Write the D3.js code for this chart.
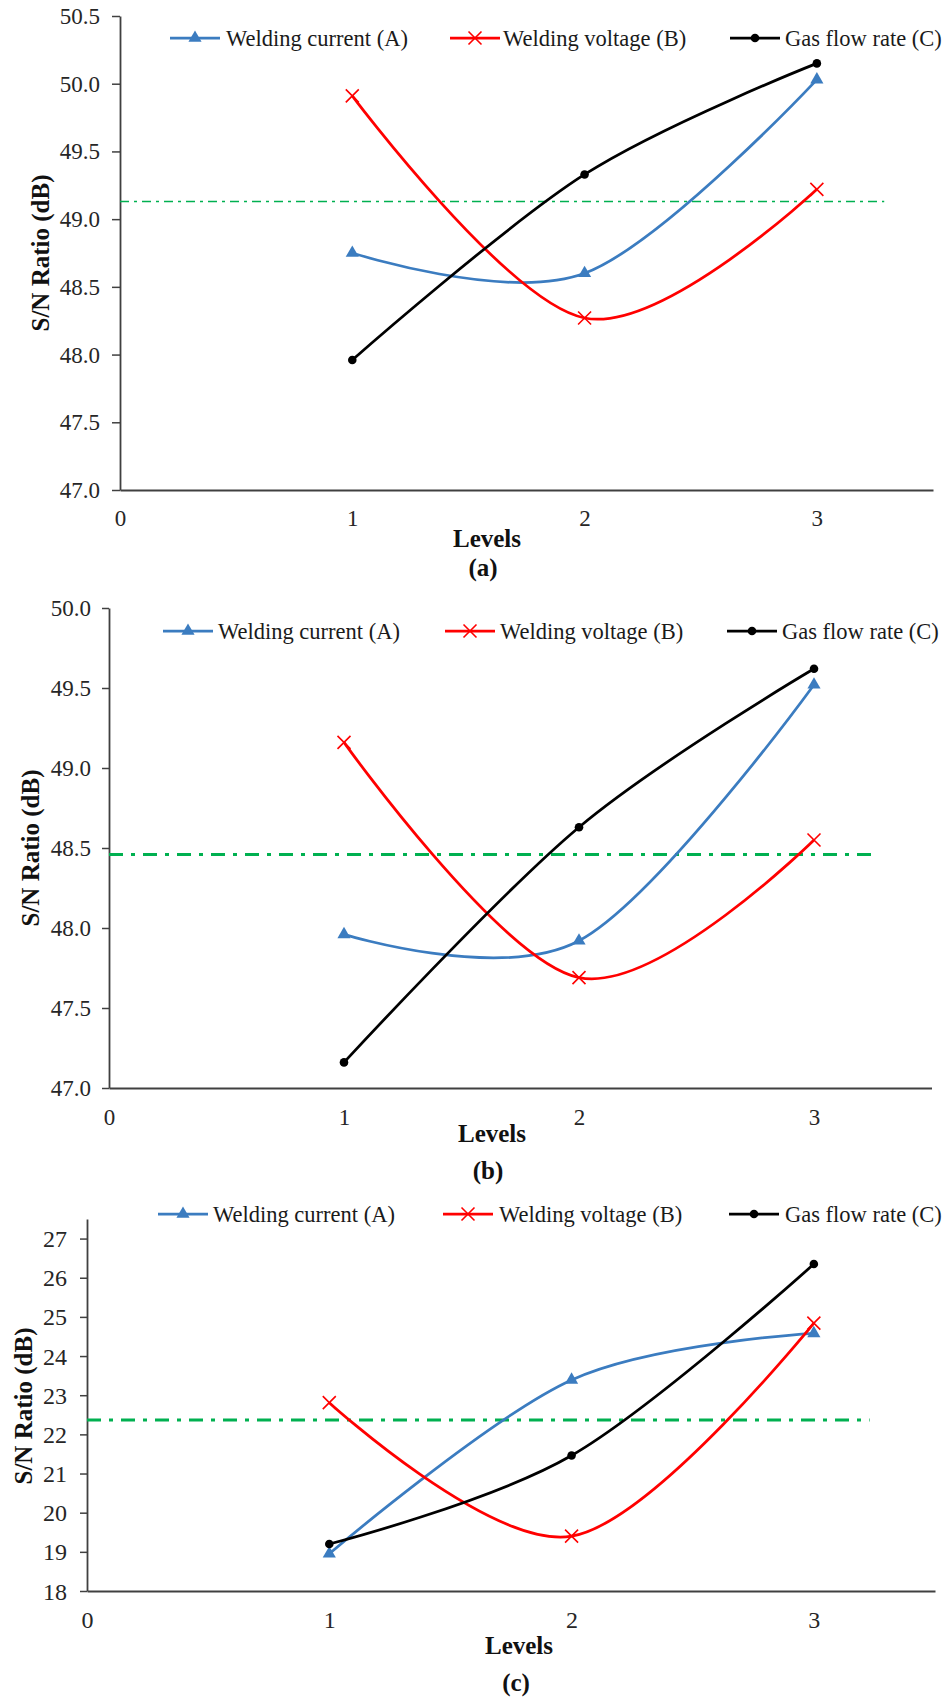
<!DOCTYPE html>
<html>
<head>
<meta charset="utf-8">
<script src="https://cdn.jsdelivr.net/npm/d3@7"></script>
<style>
body { margin: 0; background: #fff; }
svg text { font-family: "Liberation Serif", "Times New Roman", serif; }
</style>
</head>
<body>
<div id="chart-region"></div>
<script>
const WIDTH = 951;
const HEIGHT = 1697;
const FONT = "'Liberation Serif', 'Times New Roman', serif";
const AXIS_COLOR = "#404040";
const TEXT_COLOR = "#262626";

const levels = [1, 2, 3];
const xTickValues = [0, 1, 2, 3];
const seriesNames = ["Welding current (A)", "Welding voltage (B)", "Gas flow rate (C)"];

// (a)
const aCurrent = [48.75, 48.60, 50.03];
const aVoltage = [49.91, 48.27, 49.22];
const aGasFlow = [47.96, 49.33, 50.15];
const aMean = 49.13;
const aTicks = [47.0, 47.5, 48.0, 48.5, 49.0, 49.5, 50.0, 50.5];

// (b)
const bCurrent = [47.96, 47.92, 49.52];
const bVoltage = [49.16, 47.69, 48.55];
const bGasFlow = [47.16, 48.63, 49.62];
const bMean = 48.46;
const bTicks = [47.0, 47.5, 48.0, 48.5, 49.0, 49.5, 50.0];

// (c)
const cCurrent = [18.95, 23.39, 24.58];
const cVoltage = [22.81, 19.40, 24.84];
const cGasFlow = [19.20, 21.46, 26.35];
const cMean = 22.37;
const cTicks = [18, 19, 20, 21, 22, 23, 24, 25, 26, 27];

const seriesColors = ["#3b7cc0", "#ff0000", "#000000"];
const seriesMarkers = ["triangle", "cross", "dot"];

const chart = d3.select("#chart-region").append("svg")
    .attr("width", WIDTH)
    .attr("height", HEIGHT)
    .style("background", "#fff");

const panels = [
    {tag: "(a)", series: [aCurrent, aVoltage, aGasFlow], mean: aMean, ticks: aTicks,
     yDomain: [47, 50.5], fmt: ".1f",
     L: 120, R: 933, T: 16, B: 490, tickSize: 8, tickPad: 12, tickFont: 23, xLabelOff: 28,
     legendY: 38, legendLine: [170, 450, 730], legendText: [226, 503, 785],
     yTitle: [40, 253], levelsPos: [487, 538], tagPos: [483, 567],
     meanEnd: 3.29, meanWidth: 1.5, meanDash: "9,5,3,5"},
    {tag: "(b)", series: [bCurrent, bVoltage, bGasFlow], mean: bMean, ticks: bTicks,
     yDomain: [47, 50], fmt: ".1f",
     L: 109, R: 931.5, T: 608, B: 1088, tickSize: 7, tickPad: 11, tickFont: 23, xLabelOff: 29,
     legendY: 631, legendLine: [163, 445, 727], legendText: [218, 500, 782],
     yTitle: [30, 848], levelsPos: [492, 1133], tagPos: [488, 1170],
     meanEnd: 3.25, meanWidth: 3, meanDash: "14,8,4,8"},
    {tag: "(c)", series: [cCurrent, cVoltage, cGasFlow], mean: cMean, ticks: cTicks,
     yDomain: [18, 27.5], fmt: "d",
     L: 87, R: 935, T: 1219, B: 1591, tickSize: 7, tickPad: 13, tickFont: 24, xLabelOff: 29,
     legendY: 1214, legendLine: [158, 443, 729], legendText: [213, 499, 785],
     yTitle: [23, 1406], levelsPos: [519, 1645], tagPos: [516, 1682],
     meanEnd: 3.23, meanWidth: 3, meanDash: "14,8,4,8"}
];

function drawMarker(g, type, color, cx, cy) {
    if (type === "triangle") {
        g.append("path")
            .attr("d", d3.symbol(d3.symbolTriangle, 75)())
            .attr("transform", `translate(${cx}, ${cy})`)
            .attr("fill", color);
    } else if (type === "cross") {
        g.append("path")
            .attr("d", "M-6.5,-6.5L6.5,6.5M-6.5,6.5L6.5,-6.5")
            .attr("transform", `translate(${cx}, ${cy})`)
            .attr("stroke", color)
            .attr("stroke-width", 1.6)
            .attr("fill", "none");
    } else {
        g.append("circle")
            .attr("cx", cx)
            .attr("cy", cy)
            .attr("r", 4.3)
            .attr("fill", color);
    }
}

function drawPanel(p) {
    const g = chart.append("g");
    const x = d3.scaleLinear().domain([0, 3.5]).range([p.L, p.R]);
    const y = d3.scaleLinear().domain(p.yDomain).range([p.B, p.T]);

    // y axis
    g.append("g")
        .attr("transform", `translate(${p.L}, 0)`)
        .call(d3.axisLeft(y).tickValues(p.ticks).tickFormat(d3.format(p.fmt))
            .tickSizeInner(p.tickSize).tickSizeOuter(0).tickPadding(p.tickPad))
        .attr("font-family", FONT)
        .call(ax => {
            ax.select(".domain").attr("stroke", AXIS_COLOR).attr("stroke-width", 1.8);
            ax.selectAll(".tick line").attr("stroke", AXIS_COLOR).attr("stroke-width", 1.5);
            ax.selectAll("text")
                .attr("font-size", p.tickFont)
                .attr("fill", TEXT_COLOR)
                .attr("dy", null)
                .attr("dominant-baseline", "central");
        });

    // x axis
    g.append("g")
        .attr("transform", `translate(0, ${p.B})`)
        .call(d3.axisBottom(x).tickValues(xTickValues).tickFormat(d3.format("d"))
            .tickSize(0).tickPadding(0))
        .attr("font-family", FONT)
        .call(ax => {
            ax.select(".domain").attr("stroke", AXIS_COLOR).attr("stroke-width", 1.8);
            ax.selectAll("text")
                .attr("font-size", p.tickFont)
                .attr("fill", TEXT_COLOR)
                .attr("dy", null)
                .attr("y", p.xLabelOff)
                .attr("dominant-baseline", "central");
        });

    // mean line
    g.append("line")
        .attr("x1", x(0))
        .attr("x2", x(p.meanEnd))
        .attr("y1", y(p.mean))
        .attr("y2", y(p.mean))
        .attr("stroke", "#00b050")
        .attr("stroke-width", p.meanWidth)
        .attr("stroke-dasharray", p.meanDash);

    const line = d3.line()
        .x(d => x(d.level))
        .y(d => y(d.value))
        .curve(d3.curveCardinal.tension(0));

    p.series.forEach((values, i) => {
        const pts = levels.map((l, j) => ({level: l, value: values[j]}));
        g.append("path")
            .datum(pts)
            .attr("d", line)
            .attr("fill", "none")
            .attr("stroke", seriesColors[i])
            .attr("stroke-width", 2.75);
        pts.forEach(d => drawMarker(g, seriesMarkers[i], seriesColors[i], x(d.level), y(d.value)));
    });

    // legend
    seriesNames.forEach((name, i) => {
        const lx = p.legendLine[i];
        g.append("line")
            .attr("x1", lx).attr("x2", lx + 50)
            .attr("y1", p.legendY).attr("y2", p.legendY)
            .attr("stroke", seriesColors[i])
            .attr("stroke-width", 2.75);
        drawMarker(g, seriesMarkers[i], seriesColors[i], lx + 25, p.legendY);
        g.append("text")
            .attr("x", p.legendText[i])
            .attr("y", p.legendY)
            .attr("dominant-baseline", "central")
            .attr("font-family", FONT)
            .attr("font-size", 22.5)
            .attr("fill", "#1a1a1a")
            .text(name);
    });

    // axis titles
    const bold = (sel) => sel
        .attr("text-anchor", "middle")
        .attr("dominant-baseline", "central")
        .attr("font-family", FONT)
        .attr("font-weight", "bold")
        .attr("font-size", 25)
        .attr("fill", "#111");

    g.append("text")
        .attr("transform", `translate(${p.yTitle[0]}, ${p.yTitle[1]}) rotate(-90)`)
        .call(bold)
        .text("S/N Ratio (dB)");

    g.append("text")
        .attr("x", p.levelsPos[0])
        .attr("y", p.levelsPos[1])
        .call(bold)
        .text("Levels");

    g.append("text")
        .attr("x", p.tagPos[0])
        .attr("y", p.tagPos[1])
        .call(bold)
        .text(p.tag);
}

panels.forEach(drawPanel);
</script>
</body>
</html>
